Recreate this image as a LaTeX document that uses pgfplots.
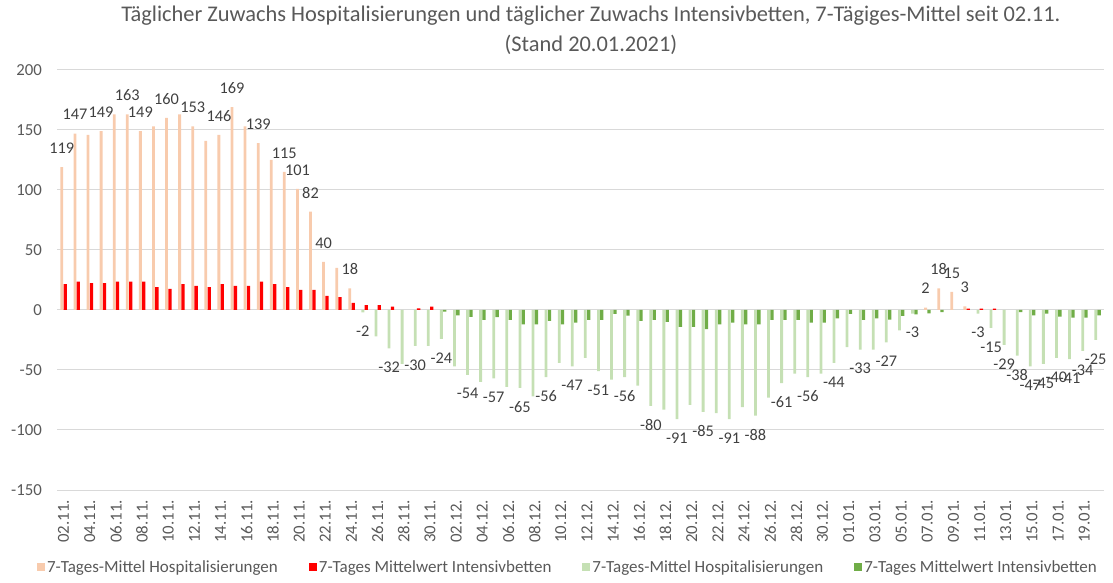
\documentclass[border=0pt]{standalone}
\usepackage{fontspec}
\setmainfont{Carlito}
\usepackage{pgfplots}
\pgfplotsset{compat=1.18}
\definecolor{hospPos}{HTML}{F8CBAD}
\definecolor{icuPos}{HTML}{FF0000}
\definecolor{hospNeg}{HTML}{C5E0B4}
\definecolor{icuNeg}{HTML}{70AD47}
\definecolor{gridgray}{HTML}{D9D9D9}
\definecolor{txtgray}{HTML}{595959}
\definecolor{lblgray}{HTML}{404040}
\begin{document}
\begin{tikzpicture}
\useasboundingbox (0,0) rectangle (1113bp,583bp);
\begin{axis}[
  at={(57bp,93bp)}, anchor=south west,
  scale only axis, width=1047bp, height=420bp,
  xmin=-0.5, xmax=79.5, ymin=-150, ymax=200,
  ytick={-150,-100,...,200},
  xtick={0,2,...,78},
  xticklabels={02.11.,04.11.,06.11.,08.11.,10.11.,12.11.,14.11.,16.11.,18.11.,20.11.,22.11.,24.11.,26.11.,28.11.,30.11.,02.12.,04.12.,06.12.,08.12.,10.12.,12.12.,14.12.,16.12.,18.12.,20.12.,22.12.,24.12.,26.12.,28.12.,30.12.,01.01.,03.01.,05.01.,07.01.,09.01.,11.01.,13.01.,15.01.,17.01.,19.01.},
  /pgf/number format/assume math mode=true,
  tick label style={font=\fontsize{16.8bp}{19bp}\selectfont, text=txtgray},
  xticklabel style={yshift=-10bp, rotate=90, anchor=east, inner sep=0pt},
  yticklabel style={xshift=-15bp, anchor=east, inner sep=0pt},
  axis line style={draw=none},
  tick style={draw=none},
  ymajorgrids,
  grid style={draw=gridgray, line width=1bp},
  clip=false,
  title={Täglicher Zuwachs Hospitalisierungen und täglicher Zuwachs Intensivbetten, 7-Tägiges-Mittel seit 02.11.\\(Stand 20.01.2021)},
  title style={at={(0.51,1)}, anchor=south, yshift=9bp, align=center, inner sep=0pt, font=\fontsize{22.4bp}{30bp}\selectfont, text=txtgray},
  legend style={at={(0.488,-0.1833)}, anchor=center, draw=none, fill=none, legend columns=4, font=\fontsize{17bp}{19bp}\selectfont, text=txtgray, /tikz/every even column/.append style={column sep=29bp}},
  legend cell align=left,
  legend image code/.code={\fill[#1] (0bp,-4bp) rectangle (8bp,4bp);},
]
% Hospitalisierungen, positive
\addplot[ybar, bar width=2.8bp, bar shift=-1.7bp, fill=hospPos, draw=none] coordinates {
(0,119)(1,147)(2,146)(3,149)(4,163)(5,163)(6,149)(7,153)(8,160)(9,163)(10,153)(11,141)(12,146)(13,169)(14,153)(15,139)(16,125)(17,115)(18,101)(19,82)(20,40)(21,35)(22,18)(66,2)(67,18)(68,15)(69,3)};
\addlegendentry{7-Tages-Mittel Hospitalisierungen}
% Intensivbetten, positive
\addplot[ybar, bar width=3.3bp, bar shift=1.7bp, fill=icuPos, draw=none] coordinates {
(0,21.5)(1,23.7)(2,22.3)(3,22.3)(4,23.7)(5,23.7)(6,23.7)(7,19)(8,17.6)(9,21.5)(10,20)(11,19)(12,21.5)(13,20)(14,20)(15,23.7)(16,21.5)(17,19)(18,16.8)(19,16.8)(20,11.7)(21,10.8)(22,6)(23,4)(24,4)(25,2.8)(27,1.4)(28,2.8)(69,1.2)(70,1.2)(71,1.2)};
\addlegendentry{7-Tages Mittelwert Intensivbetten}
% Hospitalisierungen, negative
\addplot[ybar, bar width=2.8bp, bar shift=-1.7bp, fill=hospNeg, draw=none] coordinates {
(23,-2)(24,-22)(25,-32)(26,-45)(27,-30)(28,-30)(29,-24)(30,-47)(31,-54)(32,-60)(33,-57)(34,-64)(35,-65)(36,-72)(37,-56)(38,-44)(39,-47)(40,-40)(41,-51)(42,-58)(43,-56)(44,-63)(45,-80)(46,-83)(47,-91)(48,-79)(49,-85)(50,-86)(51,-91)(52,-81)(53,-88)(54,-73)(55,-61)(56,-53)(57,-56)(58,-53)(59,-44)(60,-31)(61,-33)(62,-33)(63,-27)(64,-17)(65,-3)(70,-3)(71,-15)(72,-29)(73,-38)(74,-47)(75,-45)(76,-40)(77,-41)(78,-34)(79,-25)};
\addlegendentry{7-Tages-Mittel Hospitalisierungen}
% Intensivbetten, negative
\addplot[ybar, bar width=3.3bp, bar shift=1.7bp, fill=icuNeg, draw=none] coordinates {
(29,-1.4)(30,-4.5)(31,-5.8)(32,-8.3)(33,-6)(34,-8.3)(35,-12)(36,-12)(37,-9)(38,-12)(39,-10.5)(40,-8.3)(41,-8.3)(42,-3.3)(43,-4.7)(44,-9)(45,-8.3)(46,-10)(47,-14)(48,-14)(49,-16)(50,-12)(51,-10.5)(52,-12)(53,-12)(54,-8.3)(55,-8.3)(56,-8.3)(57,-10.5)(58,-10.5)(59,-7)(60,-3.3)(61,-8.3)(62,-7)(63,-8)(64,-5)(65,-3.6)(66,-2.8)(67,-1.7)(73,-1.7)(74,-4.5)(75,-3)(76,-5.6)(77,-6.4)(78,-6.4)(79,-4.5)};
\addlegendentry{7-Tages Mittelwert Intensivbetten}
% data labels, positive
\addplot[draw=none, forget plot, nodes near coords, point meta=explicit symbolic,
  every node near coord/.append style={anchor=center, yshift=19bp, xshift=-1.7bp, inner sep=0pt, font=\fontsize{16.3bp}{19bp}\selectfont, text=lblgray}] coordinates {
(0,119)[119](1,147)[147](3,149)[149](5,163)[163](6,149)[149](8,160)[160](10,153)[153](12,146)[146](13,169)[169](15,139)[139](17,115)[115](18,101)[101](19,82)[82](20,40)[40](22,18)[18](66,2)[2](67,18)[18](68,15)[15](69,3)[3]};
% data labels, negative
\addplot[draw=none, forget plot, nodes near coords, point meta=explicit symbolic,
  every node near coord/.append style={anchor=center, yshift=-19bp, xshift=-1.7bp, inner sep=0pt, font=\fontsize{16.3bp}{19bp}\selectfont, text=lblgray}] coordinates {
(23,-2)[-2](25,-32)[-32](27,-30)[-30](29,-24)[-24](31,-54)[-54](33,-57)[-57](35,-65)[-65](37,-56)[-56](39,-47)[-47](41,-51)[-51](43,-56)[-56](45,-80)[-80](47,-91)[-91](49,-85)[-85](51,-91)[-91](53,-88)[-88](55,-61)[-61](57,-56)[-56](59,-44)[-44](61,-33)[-33](63,-27)[-27](65,-3)[-3](70,-3)[-3](71,-15)[-15](72,-29)[-29](73,-38)[-38](74,-47)[-47](75,-45)[-45](76,-40)[-40](77,-41)[-41](78,-34)[-34](79,-25)[-25]};
\end{axis}
\end{tikzpicture}
\end{document}
